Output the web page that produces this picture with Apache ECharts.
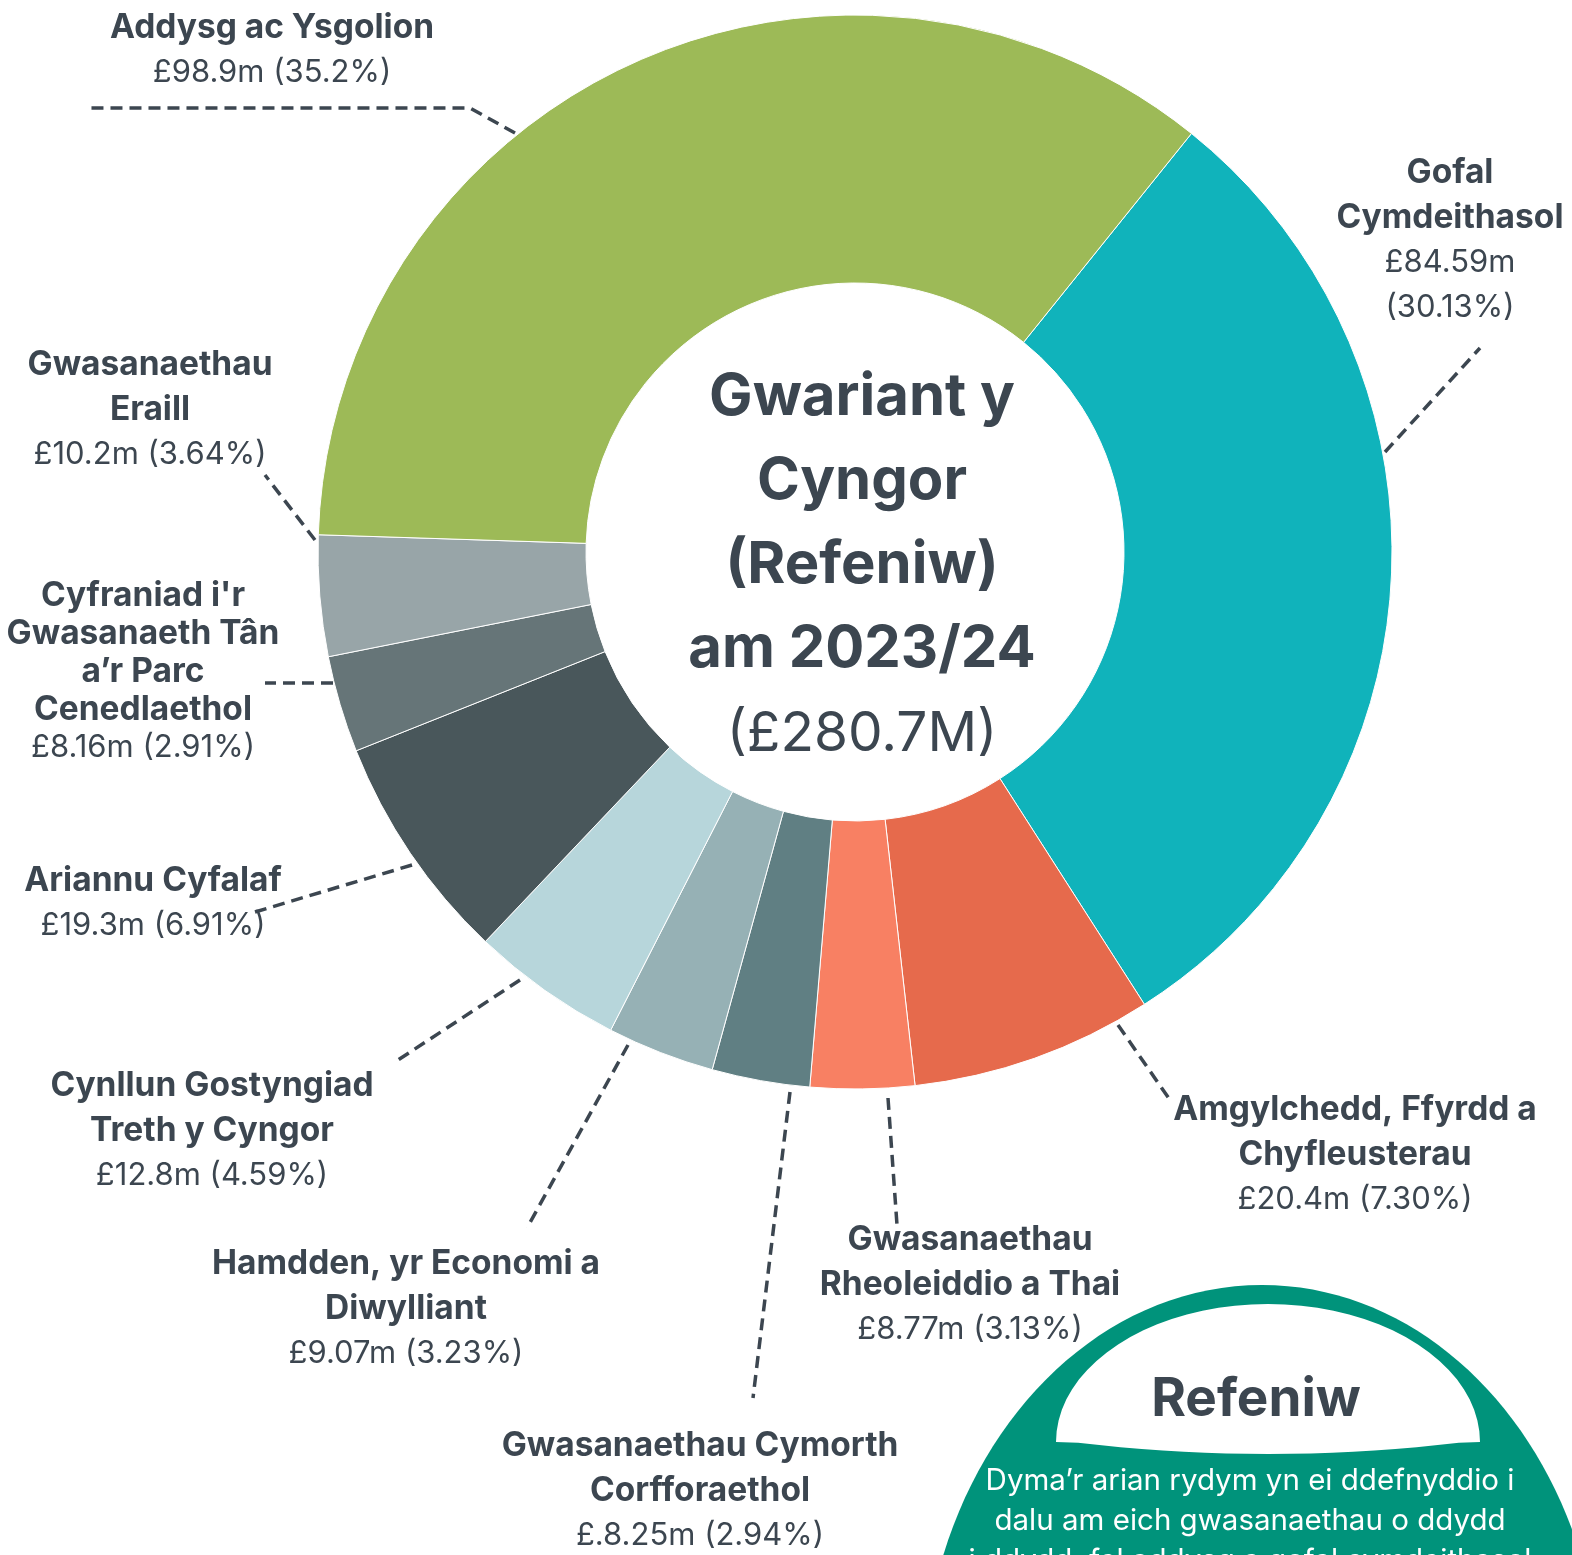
<!DOCTYPE html>
<html>
<head>
<meta charset="utf-8">
<script src="https://cdn.jsdelivr.net/npm/echarts@6/dist/echarts.min.js"></script>
<style>
  html, body { margin: 0; padding: 0; background: #fff; }
  #chart { width: 1572px; height: 1555px; }
</style>
</head>
<body>
<div id="chart"></div>
<script>
// data, clockwise from the top right
const categories = [
  'Gofal\nCymdeithasol',
  'Amgylchedd, Ffyrdd a\nChyfleusterau',
  'Gwasanaethau\nRheoleiddio a Thai',
  'Gwasanaethau Cymorth\nCorfforaethol',
  'Hamdden, yr Economi a\nDiwylliant',
  'Cynllun Gostyngiad\nTreth y Cyngor',
  'Ariannu Cyfalaf',
  "Cyfraniad i'r\nGwasanaeth Tân\na’r Parc\nCenedlaethol",
  'Gwasanaethau\nEraill',
  'Addysg ac Ysgolion'
];
const values = [84.59, 20.4, 8.77, 8.25, 9.07, 12.8, 19.3, 8.16, 10.2, 98.9];
const amountLabels = [
  '£84.59m\n(30.13%)', '£20.4m (7.30%)', '£8.77m (3.13%)', '£.8.25m (2.94%)',
  '£9.07m (3.23%)', '£12.8m (4.59%)', '£19.3m (6.91%)', '£8.16m (2.91%)',
  '£10.2m (3.64%)', '£98.9m (35.2%)'
];
const colors = ['#10b3bb', '#e66a4c', '#f88063', '#607f83', '#96b1b5',
  '#b7d6db', '#49575b', '#667578', '#98a5a8', '#9dba57'];

const centerLines = ['Gwariant y', 'Cyngor', '(Refeniw)', 'am 2023/24'];
const centerTotal = '(£280.7M)';
const badgeTitle = 'Refeniw';
const badgeLines = [
  'Dyma’r arian rydym yn ei ddefnyddio i',
  'dalu am eich gwasanaethau o ddydd',
  'i ddydd, fel addysg a gofal cymdeithasol'
];

const FONT = 'Inter, "Noto Sans", sans-serif';
const INK = '#3c4650';

// where each label block sits (centre x, top y) and its dashed leader
const labelSpots = [
  { x: 1450, y: 150, line: [[1385, 452], [1385, 452], [1480, 348]] },
  { x: 1355, y: 1087, line: [[1118, 1025], [1118, 1025], [1170, 1100]] },
  { x: 970, y: 1217, line: [[888, 1098], [888, 1098], [897, 1225]] },
  { x: 700, y: 1423, line: [[790, 1092], [790, 1092], [753, 1398]] },
  { x: 406, y: 1241, line: [[628, 1045], [628, 1045], [527, 1228]] },
  { x: 212, y: 1063, line: [[520, 980], [520, 980], [395, 1062]] },
  { x: 153, y: 858, line: [[412, 865], [412, 865], [255, 912]] },
  { x: 143, y: 577, line: [[333, 683], [333, 683], [265, 683]] },
  { x: 150, y: 342, line: [[315, 540], [315, 540], [265, 475]] },
  { x: 272, y: 5, line: [[515, 133], [470, 108], [90, 108]] }
];

function richFor(lh) {
  return {
    b: { fontFamily: FONT, fontWeight: 700, fontSize: 33.5, color: INK, lineHeight: lh },
    v: { fontFamily: FONT, fontWeight: 400, fontSize: 31, color: INK, lineHeight: lh }
  };
}

const pieData = categories.map((name, i) => ({
  name: name,
  value: values[i],
  itemStyle: { color: colors[i] },
  label: { rich: richFor(i === 7 ? 38 : 45) }
}));

// white arch inside the badge
const archPts = [];
for (let k = 0; k <= 40; k++) {
  const a = Math.PI - (Math.PI * k) / 40;
  archPts.push([1268 + 212 * Math.cos(a), 1442 - 138 * Math.sin(a)]);
}
for (let k = 1; k < 20; k++) {
  const t = k / 20;
  const x = 1480 - t * 423;
  archPts.push([x, 1440 + 14 * 4 * t * (1 - t)]);
}

const chart = echarts.init(document.getElementById('chart'));
chart.setOption({
  animation: false,
  backgroundColor: '#fff',
  series: [{
    type: 'pie',
    center: [855, 552],
    radius: [269, 537],
    startAngle: 51.2,
    clockwise: true,
    avoidLabelOverlap: false,
    silent: true,
    itemStyle: { borderColor: '#ffffff', borderWidth: 1 },
    emphasis: { disabled: true },
    label: {
      show: true,
      position: 'outside',
      align: 'center',
      formatter: p => {
        const i = p.dataIndex;
        const top = categories[i].split('\n').map(s => '{b|' + s + '}');
        const bottom = amountLabels[i].split('\n').map(s => '{v|' + s + '}');
        return top.concat(bottom).join('\n');
      },
      rich: richFor(45)
    },
    labelLine: {
      show: true,
      length: 20,
      length2: 20,
      lineStyle: { color: INK, width: 3.5, type: [12, 7] }
    },
    labelLayout: p => {
      const s = labelSpots[p.dataIndex];
      return { x: s.x, y: s.y, align: 'center', verticalAlign: 'top', labelLinePoints: s.line };
    },
    data: pieData
  }],
  graphic: [
    {
      type: 'text',
      x: 862, y: 356,
      style: {
        text: centerLines.map(s => '{a|' + s + '}').join('\n') + '\n{c|' + centerTotal + '}',
        align: 'center', verticalAlign: 'top',
        rich: {
          a: { fontFamily: FONT, fontWeight: 700, fontSize: 58, fill: INK, lineHeight: 84, align: 'center' },
          c: { fontFamily: FONT, fontWeight: 400, fontSize: 55, fill: INK, lineHeight: 84, align: 'center' }
        }
      }
    },
    {
      type: 'ellipse',
      shape: { cx: 1262, cy: 1700, rx: 340, ry: 415 },
      style: { fill: '#00937b' }
    },
    {
      type: 'polygon',
      shape: { points: archPts },
      style: { fill: '#ffffff' }
    },
    {
      type: 'text',
      x: 1256, y: 1400,
      style: {
        text: badgeTitle, align: 'center', verticalAlign: 'middle',
        fontFamily: FONT, fontWeight: 700, fontSize: 53, fill: INK
      }
    },
    {
      type: 'text',
      x: 1250, y: 1461,
      style: {
        text: badgeLines.join('\n'), align: 'center', verticalAlign: 'top',
        fontFamily: FONT, fontWeight: 400, fontSize: 29.5, lineHeight: 40, fill: '#ffffff'
      }
    }
  ]
});
</script>
</body>
</html>
